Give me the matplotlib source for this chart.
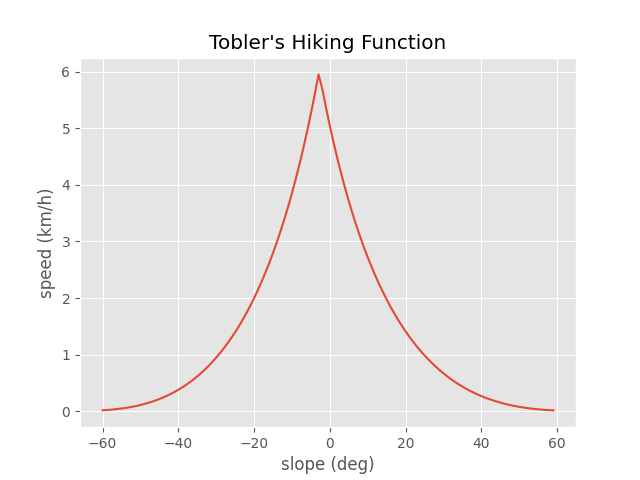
import matplotlib

matplotlib.use("Agg")

import matplotlib.pyplot as plt

# slope in degrees, -60 .. 59
slope_deg = list(range(-60, 60))

# walking speed (km/h)
speed_kmh = [
    0.017, 0.021, 0.026, 0.033, 0.040, 0.048, 0.058, 0.069, 0.081, 0.095,
    0.110, 0.128, 0.147, 0.168, 0.191, 0.216, 0.243, 0.273, 0.306, 0.341,
    0.379, 0.420, 0.464, 0.511, 0.562, 0.616, 0.674, 0.736, 0.802, 0.873,
    0.947, 1.027, 1.112, 1.201, 1.297, 1.397, 1.504, 1.618, 1.738, 1.865,
    1.999, 2.142, 2.292, 2.452, 2.620, 2.798, 2.987, 3.186, 3.397, 3.620,
    3.856, 4.106, 4.370, 4.651, 4.948, 5.262, 5.596, 5.950, 5.692, 5.354,
    5.037, 4.738, 4.457, 4.193, 3.943, 3.708, 3.486, 3.277, 3.080, 2.893,
    2.717, 2.551, 2.394, 2.245, 2.105, 1.972, 1.846, 1.728, 1.615, 1.509,
    1.409, 1.314, 1.225, 1.140, 1.060, 0.985, 0.914, 0.847, 0.783, 0.724,
    0.668, 0.615, 0.565, 0.519, 0.475, 0.434, 0.396, 0.360, 0.327, 0.296,
    0.267, 0.240, 0.216, 0.193, 0.172, 0.152, 0.134, 0.118, 0.103, 0.090,
    0.078, 0.067, 0.057, 0.048, 0.041, 0.034, 0.028, 0.023, 0.019, 0.015,
]

plt.style.use("ggplot")

fig, ax = plt.subplots(figsize=(6.4, 4.8))
ax.plot(slope_deg, speed_kmh)
ax.set_title("Tobler's Hiking Function")
ax.set_xlabel("slope (deg)")
ax.set_ylabel("speed (km/h)")

fig.savefig("out.png", dpi=100)
plt.close(fig)
